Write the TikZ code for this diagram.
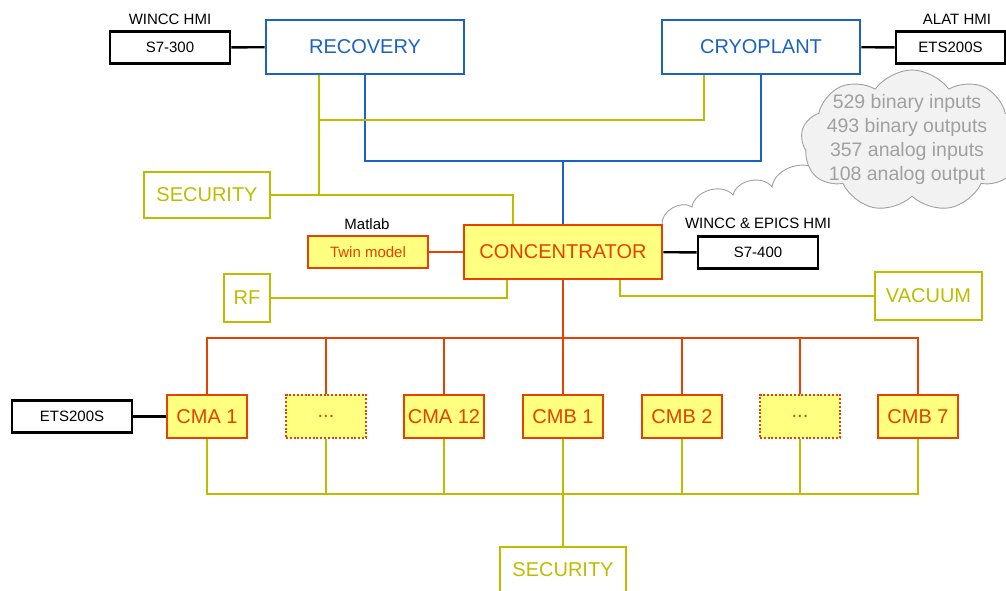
\documentclass[tikz,border=0pt]{standalone}
\usepackage{fontspec}
\setmainfont{Liberation Sans}
\usetikzlibrary{shapes.symbols}
\definecolor{plantblue}{HTML}{1A62C4}
\definecolor{secolive}{HTML}{BDBD00}
\definecolor{cmred}{HTML}{E64100}
\definecolor{cmfill}{HTML}{FFFF80}
\definecolor{cloudgray}{HTML}{A0A0A0}
\definecolor{cloudfill}{HTML}{F2F2F2}
\begin{document}
\begin{tikzpicture}[x=1pt,y=-1pt,
 big/.style={font=\fontsize{20}{24}\selectfont},
 small/.style={font=\fontsize{15}{18}\selectfont},
 hmi/.style={small,draw=black,line width=2.6pt,minimum width=120pt,minimum height=32pt,inner sep=0pt},
 plant/.style={big,draw=plantblue,text=plantblue,line width=2.8pt,minimum width=198pt,minimum height=54pt,inner sep=0pt},
 ext/.style={big,draw=secolive,text=secolive,line width=2.8pt,minimum height=46pt,inner sep=0pt},
 cmbox/.style={big,draw=cmred,fill=cmfill,text=cmred,line width=2.8pt,minimum width=80pt,minimum height=43pt,inner sep=0pt},
 dotbox/.style={cmbox,line width=2.6pt,dash pattern=on 2pt off 1.8pt},
 bk/.style={draw=black,line width=2.4pt},
 bl/.style={draw=plantblue,line width=2.4pt},
 yl/.style={draw=secolive,line width=2.4pt},
 rd/.style={draw=cmred,line width=2.4pt},
 lab/.style={small,inner sep=0pt},
 tally/.style={cloud,cloud puffs=9,cloud puff arc=110,cloud ignores aspect,minimum width=222pt,minimum height=142pt,
  fill=cloudfill,draw=cloudgray,line width=0.9pt},
 tallytxt/.style={align=center,text=cloudgray,font=\fontsize{19.5}{24}\selectfont}]
\useasboundingbox (0,0) rectangle (1006,591);
\clip (0,0) rectangle (1006,591);
\draw[cloudgray,line width=0.9pt] (662,225) to[bend left=65] (692,207) to[bend left=65] (733,195)
 to[bend left=65] (772,187) to[bend left=65] (820,172);
\node[tally] (cloud) at (912,141) {};
\node[tallytxt] (counts) at (907,139) {529 binary inputs\\493 binary outputs\\357 analog inputs\\108 analog output};
\node[hmi] (s7300) at (170,47.5) {S7-300};
\node[lab] (wincc) at (170,19) {WINCC HMI};
\node[plant] (recovery) at (365,47) {RECOVERY};
\node[plant] (cryoplant) at (761,47) {CRYOPLANT};
\node[hmi,minimum width=109pt] (etsa) at (950.5,47.5) {ETS200S};
\node[lab] (alat) at (957,19) {ALAT HMI};
\node[ext,minimum width=126pt] (security) at (207,195) {SECURITY};
\node[cmbox,minimum width=198pt,minimum height=54pt] (conc) at (563,252) {CONCENTRATOR};
\node[cmbox,small,minimum width=120pt,minimum height=32pt] (twin) at (368,252) {Twin model};
\node[lab] (matlab) at (367,224) {Matlab};
\node[hmi] (s7400) at (758,252.5) {S7-400};
\node[lab] (epics) at (758,223) {WINCC \& EPICS HMI};
\node[ext,minimum width=46pt,minimum height=48pt] (rf) at (247,298) {RF};
\node[ext,minimum width=107pt,minimum height=48pt] (vacuum) at (928.5,296) {VACUUM};
\node[hmi] (etsb) at (72,416.5) {ETS200S};
\node[cmbox] (cma1) at (207,416.5) {CMA 1};
\node[dotbox] (dotsa) at (326,416.5) {...};
\node[cmbox] (cma12) at (444,416.5) {CMA 12};
\node[cmbox] (cmb1) at (563,416.5) {CMB 1};
\node[cmbox] (cmb2) at (682,416.5) {CMB 2};
\node[dotbox] (dotsb) at (800,416.5) {...};
\node[cmbox] (cmb7) at (918,416.5) {CMB 7};
\node[ext,minimum width=126pt] (security2) at (563,570) {SECURITY};
\coordinate (secjoin) at (319,120);
\coordinate (bluebus) at (563,161);
\coordinate (redbus) at (563,338);
\coordinate (ylbus) at (563,494);
\draw[bk] (s7300) -- (recovery);
\draw[bk] (cryoplant) -- (etsa);
\draw[bk] (conc) -- (s7400);
\draw[bk] (etsb) -- (cma1);
\draw[rd] (twin) -- (conc);
\draw[bl] (recovery.south) |- (bluebus) -| (cryoplant.south);
\draw[bl] (bluebus) -- (conc.north);
\draw[yl] ([xshift=-46pt]recovery.south) |- (security.east);
\draw[yl] ([xshift=-57pt]cryoplant.south) |- (secjoin);
\draw[yl] (security.east) -| ([xshift=-50pt]conc.north);
\draw[yl] ([xshift=-56pt]conc.south) |- (rf.east);
\draw[yl] ([xshift=57pt]conc.south) |- (vacuum.west);
\draw[rd] (conc.south) -- (redbus);
\draw[rd] (cma1.north) |- (redbus) -| (cmb7.north);
\foreach \n in {dotsa,cma12,cmb1,cmb2,dotsb}
 \draw[rd] (\n.north) -- (\n.north |- redbus);
\draw[yl] (cma1.south) |- (ylbus) -| (cmb7.south);
\foreach \n in {dotsa,cma12,cmb1,cmb2,dotsb}
 \draw[yl] (\n.south) -- (\n.south |- ylbus);
\draw[yl] (ylbus) -- (security2.north);
\end{tikzpicture}
\end{document}
